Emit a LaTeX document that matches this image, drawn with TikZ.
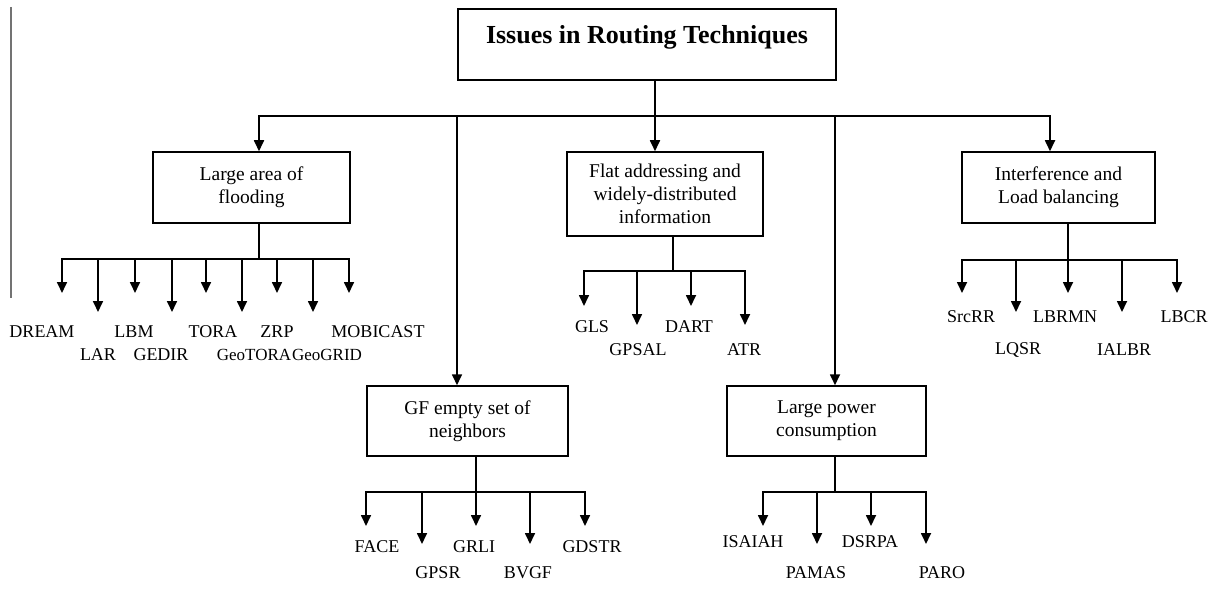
\documentclass[tikz,border=0pt]{standalone}
\usepackage{fontspec}
\setmainfont{Liberation Serif}
\usetikzlibrary{arrows.meta}
\begin{document}
\begin{tikzpicture}[x=1pt,y=-1pt,
  box/.style={draw, line width=1.5pt, inner sep=0pt, align=center, font=\fontsize{19.5}{23}\selectfont},
  leaf/.style={inner sep=0pt, font=\fontsize{18}{21}\selectfont},
  arr/.style={-{Triangle[width=10pt,length=11pt]}, line width=1.7pt},
  ln/.style={line width=1.7pt, line cap=rect}]
\useasboundingbox (0,0) rectangle (1218,591);

% left gray rule
\coordinate (g1) at (11,7); \coordinate (g2) at (11,298);
\draw[black!55, line width=1.8pt] (g1) -- (g2);

% boxes
\node[box, minimum width=378pt, text height=35pt, text depth=36pt,
      font=\bfseries\fontsize{26}{30}\selectfont] (root) at (647,44.5) {Issues in Routing Techniques};
\node[box, minimum width=197pt, minimum height=71pt] (la) at (251.5,187.5) {Large area of\\flooding};
\node[box, minimum width=196pt, minimum height=84pt] (fl) at (665,194) {Flat addressing and\\widely-distributed\\information};
\node[box, minimum width=193pt, minimum height=71pt] (ib) at (1058.5,187.5) {Interference and\\Load balancing};
\node[box, minimum width=201pt, minimum height=70pt] (gf) at (467.5,421) {GF empty set of\\neighbors};
\node[box, minimum width=199pt, minimum height=70pt] (lp) at (826.5,421) {Large power\\consumption};

% main branches
\coordinate (rj) at (655,116);
\draw[ln] (root.south -| rj) -- (rj);
\coordinate (bL) at (259,116); \coordinate (bR) at (1050,116);
\coordinate (bGF) at (457,116); \coordinate (bLP) at (835,116);
\draw[ln] (bL) -- (bR);
\draw[arr] (bL) -- (bL |- la.north);
\draw[arr] (bGF) -- (bGF |- gf.north);
\draw[arr] (rj) -- (rj |- fl.north);
\draw[arr] (bLP) -- (bLP |- lp.north);
\draw[arr] (bR) -- (bR |- ib.north);

% Large area of flooding
\coordinate (laj) at (259,259);
\draw[ln] (la.south -| laj) -- (laj);
\coordinate (lb1) at (62,259); \coordinate (lb9) at (349,259);
\draw[ln] (lb1) -- (lb9);
\foreach \n/\x/\y in {1/62/293,2/98/312,3/135/293,4/172/312,5/206/293,6/242/312,7/277/293,8/313/312,9/349/293}{
  \coordinate (lb\n) at (\x,259); \coordinate (lt\n) at (\x,\y);
  \draw[arr] (lb\n) -- (lt\n);}
\node[leaf] (dream) at (42,332) {DREAM};
\node[leaf] (lbm) at (134,332) {LBM};
\node[leaf] (tora) at (213,332) {TORA};
\node[leaf] (zrp) at (277,332) {ZRP};
\node[leaf] (mobicast) at (378,332) {MOBICAST};
\node[leaf] (lar) at (98,355) {LAR};
\node[leaf] (gedir) at (161,355) {GEDIR};
\node[leaf, font=\fontsize{17}{20}\selectfont] (geotora) at (254,355) {GeoTORA};
\node[leaf, font=\fontsize{17}{20}\selectfont] (geogrid) at (327,355) {GeoGRID};

% Flat addressing
\coordinate (flj) at (673,271);
\draw[ln] (fl.south -| flj) -- (flj);
\coordinate (fb1) at (584,271); \coordinate (fb4) at (745,271);
\draw[ln] (fb1) -- (fb4);
\foreach \n/\x/\y in {1/584/306,2/637/325,3/691/306,4/745/325}{
  \coordinate (fb\n) at (\x,271); \coordinate (ft\n) at (\x,\y);
  \draw[arr] (fb\n) -- (ft\n);}
\node[leaf] (gls) at (592,327) {GLS};
\node[leaf] (dart) at (689,327) {DART};
\node[leaf] (gpsal) at (638,350) {GPSAL};
\node[leaf] (atr) at (744,350) {ATR};

% Interference
\coordinate (ibj) at (1068,260);
\draw[ln] (ib.south -| ibj) -- (ibj);
\coordinate (ibb1) at (962,260); \coordinate (ibb5) at (1177,260);
\draw[ln] (ibb1) -- (ibb5);
\foreach \n/\x/\y in {1/962/293,2/1016/312,3/1068/293,4/1122/312,5/1177/293}{
  \coordinate (ibb\n) at (\x,260); \coordinate (ibt\n) at (\x,\y);
  \draw[arr] (ibb\n) -- (ibt\n);}
\node[leaf] (srcrr) at (971,317) {SrcRR};
\node[leaf] (lbrmn) at (1065,317) {LBRMN};
\node[leaf] (lbcr) at (1184,317) {LBCR};
\node[leaf] (lqsr) at (1018,350) {LQSR};
\node[leaf] (ialbr) at (1124,350) {IALBR};

% GF empty set
\coordinate (gfj) at (476,492);
\draw[ln] (gf.south -| gfj) -- (gfj);
\coordinate (gb1) at (366,492); \coordinate (gb5) at (585,492);
\draw[ln] (gb1) -- (gb5);
\foreach \n/\x/\y in {1/366/526,2/422/544,3/476/526,4/530/544,5/585/526}{
  \coordinate (gb\n) at (\x,492); \coordinate (gt\n) at (\x,\y);
  \draw[arr] (gb\n) -- (gt\n);}
\node[leaf] (face) at (377,547) {FACE};
\node[leaf] (grli) at (474,547) {GRLI};
\node[leaf] (gdstr) at (592,547) {GDSTR};
\node[leaf] (gpsr) at (438,573) {GPSR};
\node[leaf] (bvgf) at (528,573) {BVGF};

% Large power
\coordinate (lpj) at (835,492);
\draw[ln] (lp.south -| lpj) -- (lpj);
\coordinate (pb1) at (763,492); \coordinate (pb4) at (926,492);
\draw[ln] (pb1) -- (pb4);
\foreach \n/\x/\y in {1/763/526,2/817/544,3/871/526,4/926/544}{
  \coordinate (pb\n) at (\x,492); \coordinate (pt\n) at (\x,\y);
  \draw[arr] (pb\n) -- (pt\n);}
\node[leaf] (isaiah) at (753,542) {ISAIAH};
\node[leaf] (dsrpa) at (870,542) {DSRPA};
\node[leaf] (pamas) at (816,573) {PAMAS};
\node[leaf] (paro) at (942,573) {PARO};
\end{tikzpicture}
\end{document}
